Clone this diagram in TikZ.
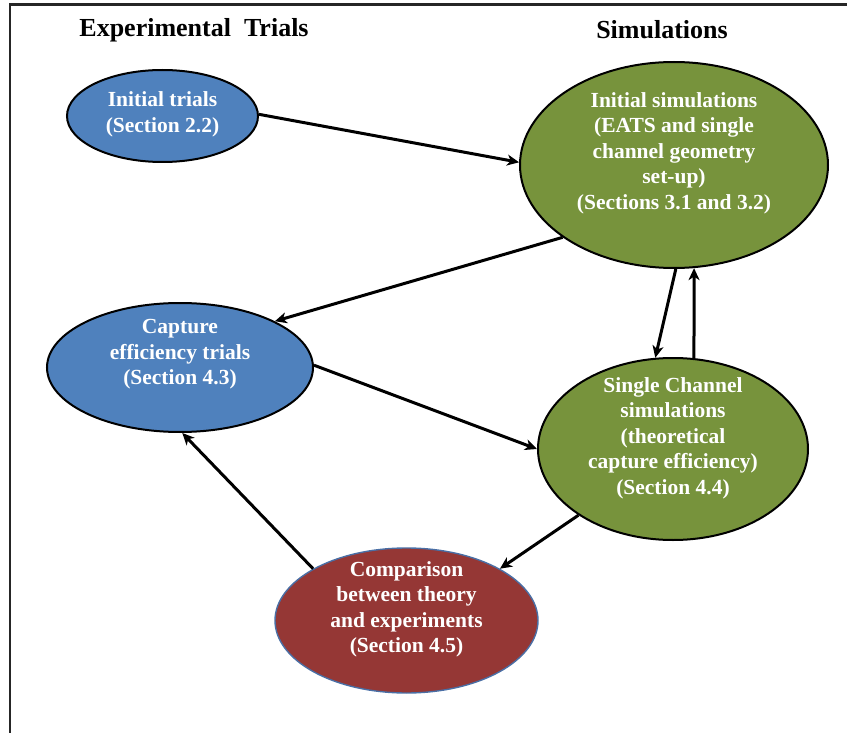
\documentclass[tikz,border=0pt]{standalone}
\usepackage{fontspec}
\setmainfont{Liberation Serif}
\usetikzlibrary{shapes.geometric, arrows.meta}

\definecolor{trialblue}{HTML}{4F81BD}
\definecolor{simgreen}{HTML}{77933C}
\definecolor{cmpred}{HTML}{953735}
\definecolor{cmpline}{HTML}{4A6FA5}

\begin{document}
\begin{tikzpicture}[x=1pt, y=-1pt,
  oval/.style={ellipse, draw=black, line width=2pt, inner sep=0pt},
  trial/.style={oval, fill=trialblue},
  sim/.style={oval, fill=simgreen},
  cmp/.style={oval, fill=cmpred, draw=cmpline, line width=1.4pt},
  txt/.style={text=white, align=center, font=\bfseries\fontsize{21.5}{25.5}\selectfont},
  title/.style={font=\bfseries\fontsize{26}{30}\selectfont},
  arr/.style={line width=3pt, -{Stealth[length=12pt, width=11pt, inset=3.5pt]}},
]
  \useasboundingbox (0,0) rectangle (847,733);
  \draw[line width=2.2pt, black!85] (10,733) -- (10,4.5) -- (847,4.5);

  % column headings
  \node[title] (exphead) at (194,30) {Experimental\ \ Trials};
  \node[title] (simhead) at (662,30) {Simulations};

  % ovals
  \node[trial, minimum width=191pt, minimum height=92pt]  (inittrials) at (162.5,116) {};
  \node[sim,   minimum width=308pt, minimum height=206pt] (initsim)    at (674,165) {};
  \node[trial, minimum width=266pt, minimum height=129pt] (capture)    at (180,367.5) {};
  \node[sim,   minimum width=270pt, minimum height=182pt] (single)     at (673,449) {};
  \node[cmp,   minimum width=263pt, minimum height=145pt] (compare)    at (406.5,620.5) {};

  \node[txt, yshift=1.5pt] at (inittrials) {Initial trials\\(Section 2.2)};
  \node[txt, yshift=12pt] at (initsim) {Initial simulations\\(EATS and single\\channel geometry\\set-up)\\(Sections 3.1 and 3.2)};
  \node[txt, yshift=13pt] at (capture) {Capture\\efficiency trials\\(Section 4.3)};
  \node[txt, yshift=11pt] at (single) {Single Channel\\simulations\\(theoretical\\capture efficiency)\\(Section 4.4)};
  \node[txt, yshift=11pt] at (compare) {Comparison\\between theory\\and experiments\\(Section 4.5)};

  % links
  \draw[arr] (inittrials.1) -- (initsim.179);
  \draw[arr] (initsim.213) -- (capture.26);
  \draw[arr] (initsim.-89) -- (single.101);
  \draw[arr] (single.77) -- (initsim.-79);
  \draw[arr] (capture.1) -- (single.180);
  \draw[arr] (single.215) -- (compare.29);
  \draw[arr] (compare.151) -- (capture.-88);
\end{tikzpicture}
\end{document}
